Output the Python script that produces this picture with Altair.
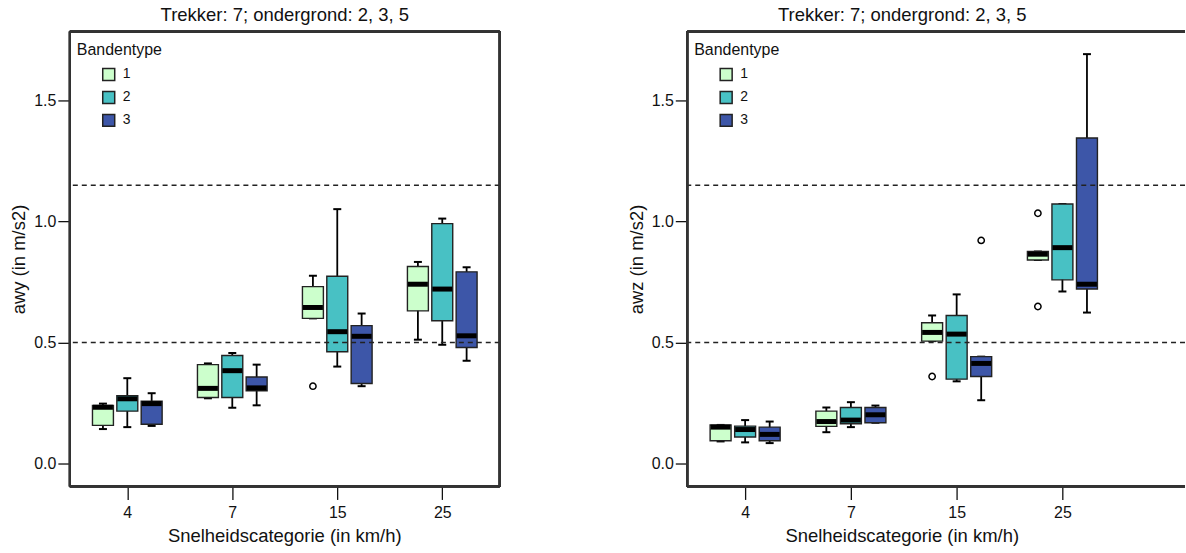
import altair as alt
import pandas as pd

# ---------------- data ----------------
categories = ["4", "7", "15", "25"]          # Snelheidscategorie (km/h)
types = ["1", "2", "3"]                      # Bandentype
colors = ["#CCFFCC", "#48C1C4", "#3D56A8"]
ref_lines = [0.5, 1.15]

# awy panel: five-number summaries per Bandentype, one value per speed category
awy_lower = {"1": [0.143, 0.270, 0.600, 0.512], "2": [0.151, 0.231, 0.401, 0.491], "3": [0.156, 0.241, 0.320, 0.425]}
awy_q1 = {"1": [0.158, 0.273, 0.600, 0.631], "2": [0.217, 0.273, 0.462, 0.590], "3": [0.163, 0.301, 0.331, 0.480]}
awy_median = {"1": [0.233, 0.311, 0.645, 0.741], "2": [0.268, 0.384, 0.545, 0.721], "3": [0.248, 0.313, 0.526, 0.528]}
awy_q3 = {"1": [0.240, 0.409, 0.731, 0.814], "2": [0.281, 0.447, 0.774, 0.991], "3": [0.258, 0.358, 0.570, 0.792]}
awy_upper = {"1": [0.248, 0.414, 0.776, 0.833], "2": [0.353, 0.457, 1.051, 1.012], "3": [0.291, 0.409, 0.620, 0.811]}
awy_out_cat = ["15"]
awy_out_type = ["1"]
awy_out_val = [0.320]

# awz panel
awz_lower = {"1": [0.092, 0.130, 0.506, 0.841], "2": [0.088, 0.151, 0.340, 0.711], "3": [0.085, 0.169, 0.262, 0.624]}
awz_q1 = {"1": [0.095, 0.154, 0.506, 0.841], "2": [0.110, 0.165, 0.349, 0.759], "3": [0.095, 0.169, 0.360, 0.721]}
awz_median = {"1": [0.151, 0.174, 0.542, 0.865], "2": [0.141, 0.180, 0.535, 0.892], "3": [0.121, 0.202, 0.414, 0.741]}
awz_q3 = {"1": [0.160, 0.217, 0.582, 0.876], "2": [0.155, 0.232, 0.612, 1.072], "3": [0.151, 0.232, 0.442, 1.345]}
awz_upper = {"1": [0.160, 0.232, 0.612, 0.876], "2": [0.180, 0.254, 0.699, 1.072], "3": [0.174, 0.240, 0.442, 1.691]}
awz_out_cat = ["15", "15", "25", "25"]
awz_out_type = ["1", "3", "1", "1"]
awz_out_val = [0.360, 0.922, 1.034, 0.649]

GROUP_SHIFT = 0.232   # dodge between Bandentypes within a category (category units)
H = 456
FONT = "Liberation Sans"


def position(cat, typ):
    return categories.index(cat) + 1 + (types.index(typ) - 1) * GROUP_SHIFT


def box_frame(lower, q1, med, q3, upper):
    rows = []
    for t in types:
        for ci, c in enumerate(categories):
            rows.append(dict(cat=c, type=t, pos=position(c, t), lo=lower[t][ci], q1=q1[t][ci],
                             med=med[t][ci], q3=q3[t][ci], hi=upper[t][ci]))
    return pd.DataFrame(rows)


def out_frame(cats, typs, vals):
    return pd.DataFrame({"type": typs, "val": vals, "pos": [position(c, t) for c, t in zip(cats, typs)]})


label_expr = "[" + ",".join("'%s'" % c for c in categories) + "][datum.value - 1]"


def panel(df, out, ytitle, width, xmax, title_dx, right_border):
    xscale = alt.Scale(domain=[0.5, xmax], nice=False, zero=False)
    yscale = alt.Scale(domain=[-0.094, 1.784], nice=False, zero=False)
    xaxis = alt.Axis(values=[1, 2, 3, 4], labelExpr=label_expr, title="Snelheidscategorie (in km/h)",
                     titleX=215, tickSize=13, labelPadding=5, titlePadding=6,
                     labelFontSize=16, titleFontSize=18.5)
    yaxis = alt.Axis(values=[0, 0.5, 1.0, 1.5], format=".1f", title=ytitle, tickSize=12,
                     labelPadding=2, titlePadding=5, labelFontSize=16, titleFontSize=18.5)

    def X(f):
        return alt.X(f, type="quantitative", scale=xscale, axis=xaxis)

    def Y(f):
        return alt.Y(f, type="quantitative", scale=yscale, axis=yaxis)

    base = alt.Chart(df)
    whisk = base.mark_rule(color="black", strokeWidth=1.8).encode(x=X("pos"), y=Y("lo"), y2="hi")
    cap_lo = base.mark_tick(orient="horizontal", size=8, thickness=2, color="black", opacity=1).encode(
        x=X("pos"), y=Y("lo"))
    cap_hi = base.mark_tick(orient="horizontal", size=8, thickness=2, color="black", opacity=1).encode(
        x=X("pos"), y=Y("hi"))
    box = base.mark_bar(size=21, stroke="#222222", strokeWidth=1.4, opacity=1).encode(
        x=X("pos"), y=Y("q1"), y2="q3",
        color=alt.Color("type:N", scale=alt.Scale(domain=types, range=colors),
                        legend=alt.Legend(title="Bandentype", orient="none", legendX=7, legendY=10,
                                          symbolType="square", symbolSize=144, symbolStrokeColor="#222222",
                                          symbolStrokeWidth=1.5, symbolOffset=25, labelOffset=7,
                                          titleFontSize=16, labelFontSize=14, titleFontWeight="normal",
                                          rowPadding=5, titlePadding=10, titleFont=FONT, labelFont=FONT,
                                          symbolOpacity=1)))
    med = base.mark_tick(orient="horizontal", size=20, thickness=5, color="black", opacity=1).encode(
        x=X("pos"), y=Y("med"))
    pts = alt.Chart(out).mark_point(shape="circle", filled=False, size=40, stroke="black",
                                     strokeWidth=1.5, opacity=1).encode(x=X("pos"), y=Y("val"))
    dash = alt.Chart(pd.DataFrame({"ref": ref_lines})).mark_rule(
        strokeDash=[5, 4], color="#222222", strokeWidth=1.5).encode(y=Y("ref"))
    bc = "#333333"
    top = alt.Chart(df).mark_rule(color=bc, strokeWidth=1.8).encode(x=alt.value(0), x2=alt.value(width), y=alt.value(0))
    bot = alt.Chart(df).mark_rule(color=bc, strokeWidth=1.8).encode(x=alt.value(0), x2=alt.value(width), y=alt.value(H))
    lef = alt.Chart(df).mark_rule(color=bc, strokeWidth=1.8).encode(x=alt.value(0), y=alt.value(0), y2=alt.value(H))
    layers = [whisk, cap_lo, cap_hi, box, med, pts, dash, top, bot, lef]
    if right_border:
        layers.append(alt.Chart(df).mark_rule(color=bc, strokeWidth=1.8).encode(
            x=alt.value(width), y=alt.value(0), y2=alt.value(H)))
    return alt.layer(*layers).properties(
        width=width, height=H,
        title=alt.TitleParams("Trekker: 7; ondergrond: 2, 3, 5", fontSize=18.5, fontWeight="normal",
                              offset=6, dx=title_dx, font=FONT, color="#111111"))


left = panel(box_frame(awy_lower, awy_q1, awy_median, awy_q3, awy_upper),
             out_frame(awy_out_cat, awy_out_type, awy_out_val), "awy (in m/s2)", 431, 4.5, 0, True)
right = panel(box_frame(awz_lower, awz_q1, awz_median, awz_q3, awz_upper),
              out_frame(awz_out_cat, awz_out_type, awz_out_val), "awz (in m/s2)", 499, 0.5 + 499 / 108.2, -34, False)

chart = alt.hconcat(left, right, spacing=126).resolve_scale(color="independent").resolve_legend(
    color="independent").properties(
    padding={"left": 9, "top": 5, "right": 0, "bottom": 0}, background="white"
).configure_view(strokeWidth=0).configure_axis(
    domain=False, grid=False, tickColor="#111111", tickWidth=1.3, labelColor="#111111",
    titleColor="#111111", labelFont=FONT, titleFont=FONT, titleFontWeight="normal"
).configure_legend(labelColor="#111111", titleColor="#111111")

chart.save("out.html", embed_options={"renderer": "svg", "actions": False})
